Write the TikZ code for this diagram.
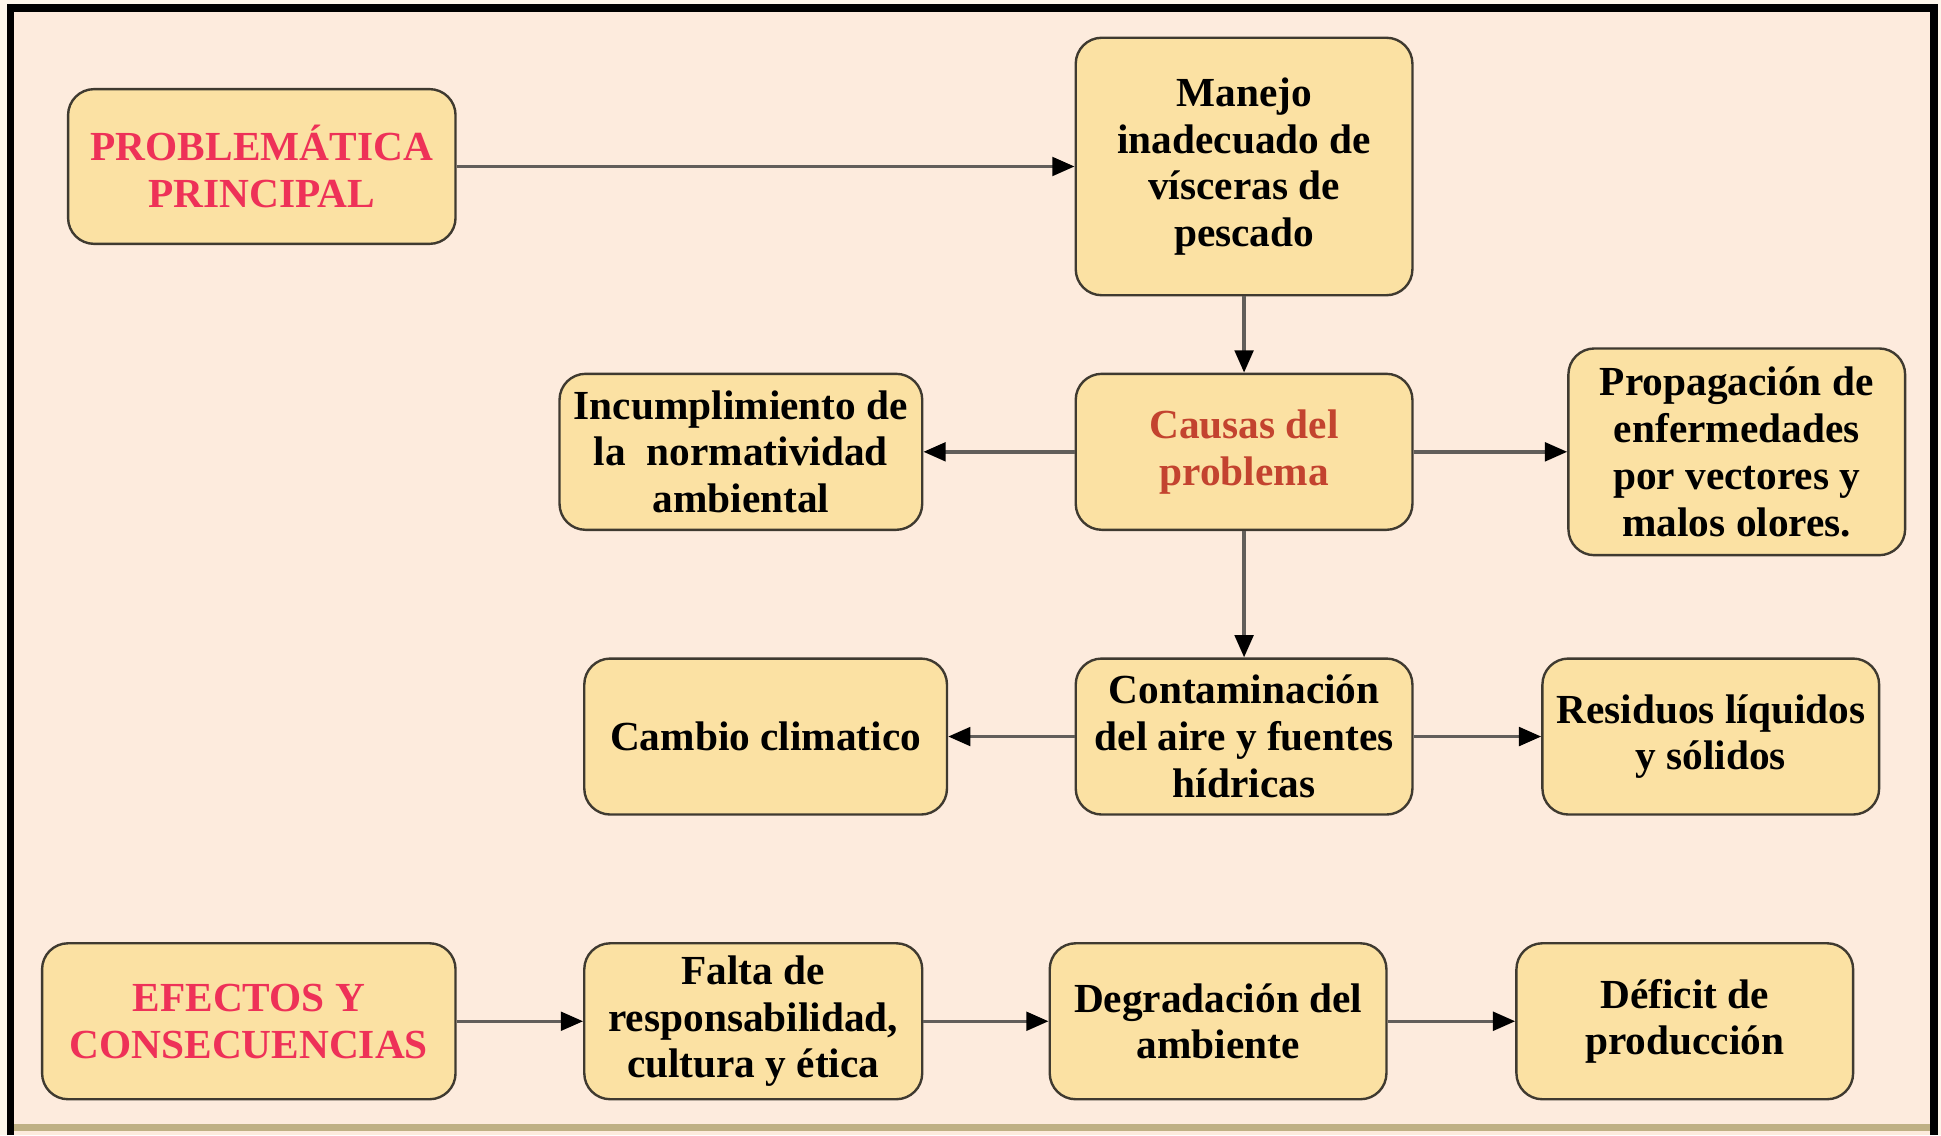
\documentclass[tikz,border=0pt]{standalone}
\usepackage{fontspec}
\setmainfont{Liberation Serif}
\usetikzlibrary{arrows.meta}
\definecolor{FondoHoja}{HTML}{FDF6EA}
\definecolor{FondoRosa}{HTML}{FDEBDD}
\definecolor{RellenoCaja}{HTML}{FBE1A3}
\definecolor{LineaCaja}{HTML}{3F3A30}
\definecolor{GrisFlecha}{HTML}{625E5A}
\definecolor{RojoTitulo}{HTML}{EE3158}
\definecolor{RojoCausa}{HTML}{C3432F}
\definecolor{MarcoBajo}{HTML}{BFB084}

\begin{document}
\begin{tikzpicture}[
    caja/.style={draw=LineaCaja, fill=RellenoCaja, line width=1.1pt, rounded corners=0.42cm,
        align=center, minimum width=5.44cm, minimum height=2.52cm, inner sep=2pt,
        font=\bfseries\fontsize{19}{21.5}\selectfont},
    flecha/.style={draw=GrisFlecha, line width=1.6pt, -{Triangle[length=0.36cm, width=0.3cm, black]}}]
    \def\W{31.36} \def\H{18.34}
    \useasboundingbox (0,0) rectangle (\W,-\H);
    % hoja y marco
    \fill[FondoHoja] (0,0) rectangle (\W,-\H);
    \fill[FondoRosa] (0.17,-0.13) rectangle (31.24,-\H);
    \draw[MarcoBajo, line width=3pt] (0.17,-18.22) -- (31.24,-18.22);
    \draw[black, line width=3.6pt] (0.17,-\H) -- (0.17,-0.13) -- (31.24,-0.13) -- (31.24,-\H);
    % fila superior
    \node[caja, minimum width=6.26cm, minimum height=2.5cm, text=RojoTitulo] (prob) at (4.23,-2.69) {PROBLEMÁTICA\\PRINCIPAL};
    \node[caja, minimum height=4.16cm] (manejo) at (20.1,-2.69) {Manejo\\inadecuado de\\vísceras de\\pescado};
    % causas
    \node[caja, text=RojoCausa] (causas) at (20.1,-7.3) {Causas del\\problema};
    \node[caja, minimum width=5.86cm] (incum) at (11.97,-7.3) {Incumplimiento de\\la \ normatividad\\ambiental};
    \node[caja, minimum height=3.34cm] (prop) at (28.06,-7.3) {Propagación de\\enfermedades\\por vectores y\\malos olores.};
    % contaminacion
    \node[caja] (conta) at (20.1,-11.9) {Contaminación\\del aire y fuentes\\hídricas};
    \node[caja, minimum width=5.86cm] (cambio) at (12.37,-11.9) {Cambio climatico};
    \node[caja] (resid) at (27.64,-11.9) {Residuos líquidos\\y sólidos};
    % efectos
    \node[caja, minimum width=6.68cm, text=RojoTitulo] (efectos) at (4.02,-16.5) {EFECTOS Y\\CONSECUENCIAS};
    \node[caja, minimum width=5.46cm] (falta) at (12.17,-16.5) {Falta de\\responsabilidad,\\cultura y ética};
    \node[caja] (degrad) at (19.68,-16.5) {Degradación del\\ambiente};
    \node[caja] (deficit) at (27.22,-16.5) {Déficit de\\producción};
    % flechas
    \draw[flecha] (prob) -- (manejo);
    \draw[flecha] (manejo) -- (causas);
    \draw[flecha] (causas) -- (incum);
    \draw[flecha] (causas) -- (prop);
    \draw[flecha] (causas) -- (conta);
    \draw[flecha] (conta) -- (cambio);
    \draw[flecha] (conta) -- (resid);
    \draw[flecha] (efectos) -- (falta);
    \draw[flecha] (falta) -- (degrad);
    \draw[flecha] (degrad) -- (deficit);
\end{tikzpicture}
\end{document}
